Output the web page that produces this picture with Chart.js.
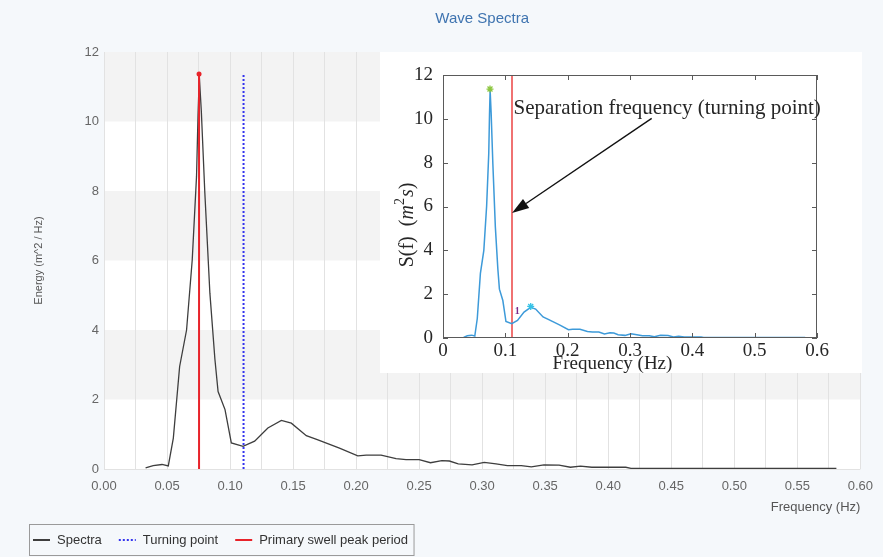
<!DOCTYPE html>
<html><head><meta charset="utf-8">
<script src="https://cdn.jsdelivr.net/npm/chart.js@4.4.1/dist/chart.umd.min.js"></script>
<style>
html,body{margin:0;padding:0;background:#f5f8fb;}
#wrap{position:relative;width:883px;height:557px;overflow:hidden;}
#main{position:absolute;left:0;top:0;}
#inset{position:absolute;left:380px;top:52px;background:#ffffff;}
</style></head><body>
<div id="wrap">
<canvas id="main" width="883" height="557"></canvas>
<canvas id="inset" width="482" height="321"></canvas>
</div>
<script>
// ---------- data ----------
const frequency = [0.033,0.039,0.046,0.051,0.055,0.060,0.0655,0.070,0.0734,0.0746,0.0756,0.0772,0.080,0.084,0.088,0.0905,0.096,0.101,0.1103,0.1195,0.130,0.1407,0.1486,0.1605,0.1697,0.1868,0.2013,0.208,0.2198,0.2317,0.2396,0.250,0.259,0.268,0.274,0.281,0.292,0.3016,0.311,0.320,0.331,0.339,0.349,0.361,0.370,0.378,0.387,0.398,0.414,0.418,0.450,0.500,0.550,0.581];
const energy    = [0.03,0.10,0.13,0.09,0.89,2.95,4.00,6.02,8.42,10.2,11.30,10.3,7.94,5.06,3.15,2.23,1.71,0.75,0.65,0.80,1.18,1.40,1.32,0.96,0.84,0.60,0.38,0.40,0.40,0.30,0.27,0.27,0.18,0.24,0.23,0.15,0.12,0.19,0.15,0.10,0.10,0.06,0.12,0.11,0.05,0.08,0.05,0.05,0.05,0.02,0.02,0.02,0.02,0.02];
const turningPointFreq = 0.1107;
const primaryPeakFreq = 0.0754;
const markerTop = 11.37;
const xTickLabels = ['0.00','0.05','0.10','0.15','0.20','0.25','0.30','0.35','0.40','0.45','0.50','0.55','0.60'];
const yTickLabels = ['0','2','4','6','8','10','12'];
const insetXLabels = ['0','0.1','0.2','0.3','0.4','0.5','0.6'];
const insetYLabels = ['0','2','4','6','8','10','12'];
const primaryMarker = [0.0754, 11.36];
const secondaryMarker = [0.1407, 1.44];
const partitionLabel = {text:'1', x:0.119, y:1.21};
const annotationText = 'Separation frequency (turning point)';
const annotationAnchor = [turningPointFreq, 10.22];
const arrowTail = [0.3348, 10.02];
const arrowTip = [turningPointFreq, 5.7];

const spectraPts = frequency.map((f,i)=>({x:f,y:energy[i]}));

// ---------- main chart ----------
const bandsPlugin = {
  id:'bands',
  beforeDraw(chart){
    const {ctx, chartArea:a, scales:{y}} = chart;
    ctx.save();
    ctx.fillStyle='#ffffff';
    ctx.fillRect(a.left,a.top,a.right-a.left,a.bottom-a.top);
    ctx.fillStyle='#f3f3f3';
    [[10,12],[6,8],[2,4]].forEach(([lo,hi])=>{
      const t=y.getPixelForValue(hi), b=y.getPixelForValue(lo);
      ctx.fillRect(a.left,t,a.right-a.left,b-t);
    });
    ctx.restore();
  }
};
const legendPlugin = {
  id:'boxLegend',
  afterDraw(chart){
    const ctx=chart.ctx;
    const ds=chart.data.datasets;
    const items=[ds[2],ds[1],ds[0]];
    ctx.save();
    ctx.font='13px "Liberation Sans", Arial, sans-serif';
    ctx.textBaseline='middle';
    let x=33; const y=540;
    items.forEach((d,i)=>{
      ctx.beginPath();
      ctx.setLineDash(d.borderDash||[]);
      ctx.strokeStyle=d.borderColor; ctx.lineWidth=2;
      ctx.moveTo(x,y); ctx.lineTo(x+17,y); ctx.stroke();
      ctx.setLineDash([]);
      x+=24;
      ctx.fillStyle='#333';
      ctx.fillText(d.label,x,y+0.5);
      x+=ctx.measureText(d.label).width+17;
    });
    const right=x-17+6;
    ctx.strokeStyle='#9a9a9a'; ctx.lineWidth=1;
    ctx.strokeRect(29.5,524.5,right-29.5,31);
    ctx.restore();
  }
};

new Chart(document.getElementById('main'),{
  type:'line',
  data:{datasets:[
    {label:'Primary swell peak period', data:[{x:primaryPeakFreq,y:0},{x:primaryPeakFreq,y:markerTop}],
     borderColor:'#e8232a', borderWidth:2, pointRadius:[0,2.5], pointBackgroundColor:'#e8232a', pointBorderWidth:0, order:0},
    {label:'Turning point', data:[{x:turningPointFreq,y:0},{x:turningPointFreq,y:markerTop}],
     borderColor:'#3434ee', borderWidth:2, borderDash:[2,2], pointRadius:0, order:1},
    {label:'Spectra', data:spectraPts, borderColor:'#3e3e3e', borderWidth:1.3, pointRadius:0, tension:0, order:2}
  ]},
  options:{
    responsive:false, animation:false, devicePixelRatio:1,
    layout:{padding:{left:28,right:21,top:0,bottom:42}},
    plugins:{
      legend:{display:false}, tooltip:{enabled:false},
      title:{display:true, fullSize:false, text:'Wave Spectra', color:'#3f74b0',
        font:{family:'"Liberation Sans", Arial, sans-serif', size:15, weight:'normal'}, padding:{top:10,bottom:24}}
    },
    scales:{
      x:{type:'linear', min:0, max:0.6,
        ticks:{stepSize:0.025, autoSkip:false, maxRotation:0, padding:10, color:'#666',
          font:{family:'"Liberation Sans", Arial, sans-serif', size:13},
          callback:(v)=>{const k=Math.round(v*1000); return k%50===0 ? xTickLabels[k/50] : '';}},
        grid:{color:'#e2e2e2', drawTicks:false}, border:{display:false},
        title:{display:true, text:'Frequency (Hz)', align:'end', color:'#555',
          font:{family:'"Liberation Sans", Arial, sans-serif', size:13}, padding:{top:5,bottom:0}},
        afterFit:(s)=>{s.height=46;}},
      y:{min:0, max:12,
        ticks:{stepSize:2, padding:5, color:'#666', font:{family:'"Liberation Sans", Arial, sans-serif', size:13},
          callback:(v)=>yTickLabels[Math.round(v/2)]},
        grid:{drawTicks:false, color:(c)=> c.tick && c.tick.value===0 ? '#e2e2e2' : 'rgba(0,0,0,0)'},
        border:{display:false},
        title:{display:true, text:'Energy (m^2 / Hz)', color:'#555',
          font:{family:'"Liberation Sans", Arial, sans-serif', size:11}, padding:{top:4,bottom:0}},
        afterFit:(s)=>{s.width=76;}}
    }
  },
  plugins:[bandsPlugin, legendPlugin]
});

// ---------- inset chart ----------
const SERIF='"Liberation Serif", "Times New Roman", serif';
const insetDecor = {
  id:'insetDecor',
  afterDraw(chart){
    const {ctx, chartArea:a, scales:{x,y}} = chart;
    ctx.save();
    ctx.strokeStyle='#5a5a5a'; ctx.lineWidth=1;
    ctx.strokeRect(a.left+0.5,a.top+0.5,a.right-a.left-1,a.bottom-a.top-1);
    ctx.beginPath();
    x.ticks.forEach(t=>{const p=Math.round(x.getPixelForValue(t.value))+0.5;
      ctx.moveTo(p,a.bottom); ctx.lineTo(p,a.bottom-5); ctx.moveTo(p,a.top); ctx.lineTo(p,a.top+5);});
    y.ticks.forEach(t=>{const p=Math.round(y.getPixelForValue(t.value))+0.5;
      ctx.moveTo(a.left,p); ctx.lineTo(a.left+5,p); ctx.moveTo(a.right,p); ctx.lineTo(a.right-5,p);});
    ctx.stroke();
    // annotation text
    ctx.fillStyle='#262626';
    ctx.font='21px '+SERIF; ctx.textAlign='left'; ctx.textBaseline='alphabetic';
    ctx.fillText(annotationText, x.getPixelForValue(annotationAnchor[0])+1.5, y.getPixelForValue(annotationAnchor[1]));
    // arrow
    const tx=x.getPixelForValue(arrowTail[0]), ty=y.getPixelForValue(arrowTail[1]);
    const hx=x.getPixelForValue(arrowTip[0]), hy=y.getPixelForValue(arrowTip[1]);
    const ang=Math.atan2(hy-ty,hx-tx), L=17, W=5.5;
    const bx=hx-L*Math.cos(ang), by=hy-L*Math.sin(ang);
    ctx.strokeStyle='#111'; ctx.lineWidth=1.4;
    ctx.beginPath(); ctx.moveTo(tx,ty); ctx.lineTo(bx,by); ctx.stroke();
    ctx.fillStyle='#111';
    ctx.beginPath(); ctx.moveTo(hx,hy);
    ctx.lineTo(bx+W*Math.sin(ang), by-W*Math.cos(ang));
    ctx.lineTo(bx-W*Math.sin(ang), by+W*Math.cos(ang));
    ctx.closePath(); ctx.fill();
    // partition label
    ctx.fillStyle='#7b2a8c'; ctx.font='bold 10px '+SERIF; ctx.textAlign='center'; ctx.textBaseline='middle';
    ctx.fillText(partitionLabel.text, x.getPixelForValue(partitionLabel.x), y.getPixelForValue(partitionLabel.y));
    // x title
    ctx.fillStyle='#262626'; ctx.font='19px '+SERIF; ctx.textAlign='center'; ctx.textBaseline='middle';
    ctx.fillText('Frequency (Hz)', 232.5, 312);
    // y title with italics / superscript
    ctx.translate(28,173); ctx.rotate(-Math.PI/2);
    const parts=[['S(f)  (','20px '+SERIF,0],['m','italic 20px '+SERIF,0],['2','14px '+SERIF,-8],['s','italic 20px '+SERIF,0],[')','20px '+SERIF,0]];
    let tot=0; parts.forEach(p=>{ctx.font=p[1]; tot+=ctx.measureText(p[0]).width+(p[0]==='2'?1:0);});
    let cx=-tot/2; ctx.textAlign='left';
    parts.forEach(p=>{ctx.font=p[1]; ctx.fillText(p[0],cx,p[2]); cx+=ctx.measureText(p[0]).width+(p[0]==='2'?1:0);});
    ctx.restore();
  }
};

new Chart(document.getElementById('inset'),{
  type:'line',
  data:{datasets:[
    {label:'primary peak', data:[{x:primaryMarker[0],y:primaryMarker[1]}], showLine:false,
     pointStyle:'star', pointRadius:3.5, borderColor:'#8cc63f', pointBorderWidth:1.3, order:0},
    {label:'secondary peak', data:[{x:secondaryMarker[0],y:secondaryMarker[1]}], showLine:false,
     pointStyle:'star', pointRadius:3.5, borderColor:'#35c2e6', pointBorderWidth:1.3, order:0},
    {label:'Separation', data:[{x:turningPointFreq,y:0},{x:turningPointFreq,y:12}],
     borderColor:'#f07272', borderWidth:2, pointRadius:0, order:2},
    {label:'S(f)', data:spectraPts, borderColor:'#3d9ad9', borderWidth:1.5, pointRadius:0, tension:0, order:1}
  ]},
  options:{
    responsive:false, animation:false, devicePixelRatio:1,
    layout:{padding:{left:0,right:45,top:23,bottom:0}},
    plugins:{legend:{display:false}, title:{display:false}, tooltip:{enabled:false}},
    scales:{
      x:{type:'linear', min:0, max:0.6,
        ticks:{stepSize:0.1, autoSkip:false, maxRotation:0, padding:2, color:'#262626', font:{family:SERIF,size:19},
          callback:(v)=>insetXLabels[Math.round(v*10)]},
        grid:{display:false, drawTicks:false}, border:{display:false}, afterFit:(s)=>{s.height=35;}},
      y:{min:0, max:12,
        ticks:{stepSize:2, padding:10, color:'#262626', font:{family:SERIF,size:19},
          callback:(v)=>insetYLabels[Math.round(v/2)]},
        grid:{display:false, drawTicks:false}, border:{display:false}, afterFit:(s)=>{s.width=63;}}
    }
  },
  plugins:[insetDecor]
});
</script>
</body></html>
